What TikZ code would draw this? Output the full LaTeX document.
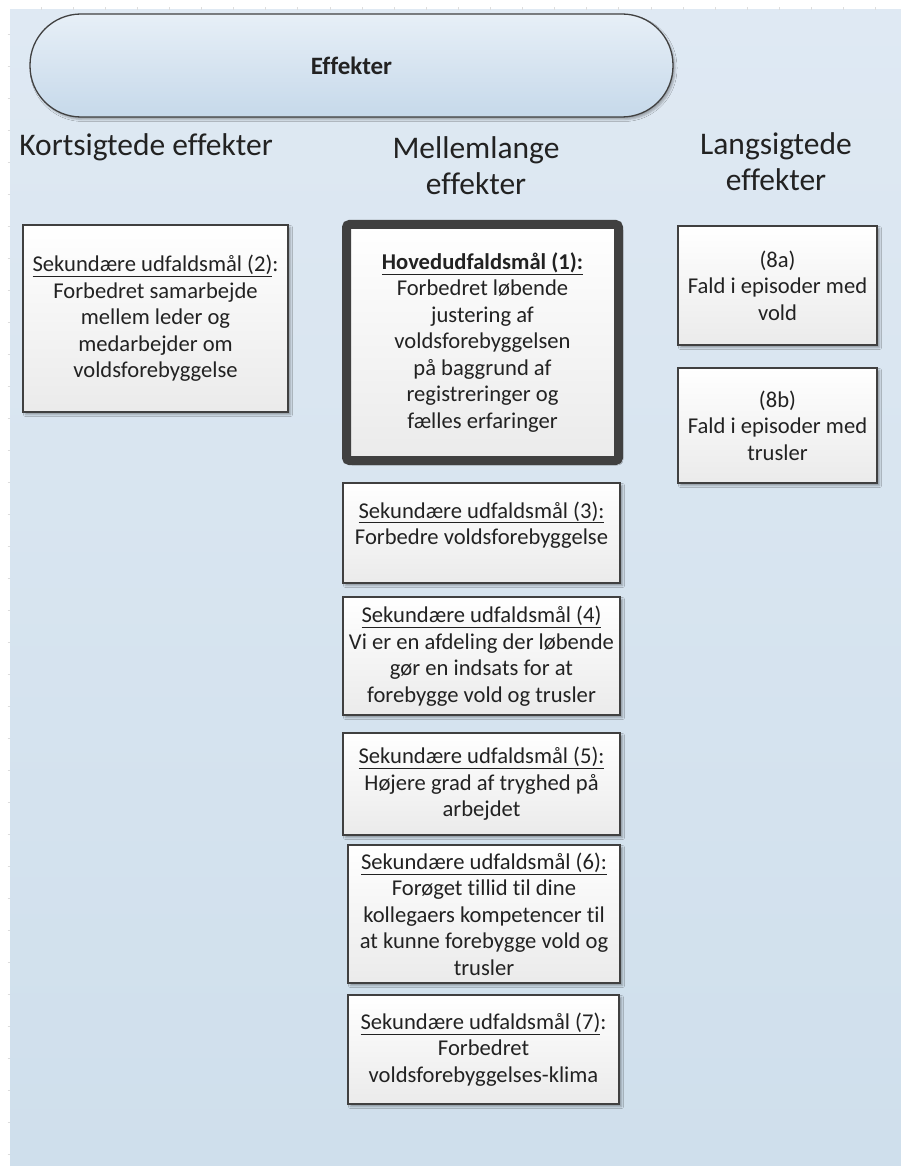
\documentclass[tikz,border=0pt]{standalone}
\usepackage{fontspec}
\setmainfont{Carlito}[Ligatures={NoCommon}]
\usetikzlibrary{shadows.blur}
\definecolor{panelTop}{HTML}{DFE9F3}
\definecolor{panelBot}{HTML}{CFDFEC}
\definecolor{termTop}{HTML}{E7EFF7}
\definecolor{termBot}{HTML}{C6D9EA}
\definecolor{edge}{HTML}{404040}
\definecolor{txt}{HTML}{222222}
\definecolor{tickc}{HTML}{DDDDDD}
\tikzset{
  boxstyle/.style={draw=edge, line width=1.2pt, top color=white, bottom color=black!8,
    align=center, text=txt, font=\fontsize{22.6}{26.5}\selectfont, inner sep=0pt,
    blur shadow={shadow xshift=2.5pt, shadow yshift=-2.5pt, shadow opacity=35, shadow blur radius=2pt}},
  mainbox/.style={boxstyle, line width=9pt, rounded corners=3pt},
  headstyle/.style={align=center, text=txt, font=\fontsize{31.5}{35.5}\selectfont, inner sep=0pt},
  termstyle/.style={draw=edge, line width=1.3pt, top color=termTop, bottom color=termBot,
    rounded corners=51pt, text=txt, font=\fontsize{25}{29}\selectfont\bfseries,
    blur shadow={shadow xshift=2pt, shadow yshift=-2.5pt, shadow opacity=30, shadow blur radius=2pt}},
  tickstyle/.style={draw=tickc, line width=0.7pt},
  plaintext/.style={align=center, text=txt, font=\fontsize{22.6}{26.5}\selectfont, inner sep=0pt}
}
\begin{document}
\begin{tikzpicture}[x=1pt,y=-1pt]
\useasboundingbox (0,0) rectangle (901,1166);
\fill[white] (0,0) rectangle (901,1166);
\fill[top color=panelTop, bottom color=panelBot] (10,10) rectangle (901,1166);
\foreach \i in {0,...,26} \draw[tickstyle] ({41+32.1*\i},7.5) -- ++(0,2.5);
\foreach \j in {0,...,35} \draw[tickstyle] (7.5,{34+32*\j}) -- ++(2.5,0);

\node[termstyle, minimum width=643pt, minimum height=103pt] (term) at (351.5,65.5) {Effekter};

\node[headstyle] (hk) at (146,147) {Kortsigtede effekter};
\node[headstyle] (hm) at (476,165.5) {Mellemlange\\effekter};
\node[headstyle] (hl) at (776,161.5) {Langsigtede\\effekter};

\node[boxstyle, minimum width=265pt, minimum height=187pt] (b2) at (155.5,318.5)
  {\underline{Sekundære udfaldsmål (2)}:\\Forbedret samarbejde\\mellem leder og\\medarbejder om\\voldsforebyggelse};

\node[mainbox, minimum width=272pt, minimum height=236pt] (b1) at (482.5,342.5)
  {\textbf{\underline{Hovedudfaldsmål (1):}}\\Forbedret løbende\\justering af\\voldsforebyggelsen\\på baggrund af\\registreringer og\\fælles erfaringer};

\node[boxstyle, minimum width=277pt, minimum height=100pt] (b3) at (481.5,533) {};
\node[plaintext] (t3) at (481.5,525) {\underline{Sekundære udfaldsmål (3):}\\Forbedre voldsforebyggelse};

\node[boxstyle, minimum width=277pt, minimum height=118pt] (b4) at (481.5,656)
  {\underline{Sekundære udfaldsmål (4)}\\Vi er en afdeling der løbende\\gør en indsats for at\\forebygge vold og trusler};

\node[boxstyle, minimum width=277pt, minimum height=102pt] (b5) at (481.5,784)
  {\underline{Sekundære udfaldsmål (5):}\\Højere grad af tryghed på\\arbejdet};

\node[boxstyle, minimum width=272pt, minimum height=138pt] (b6) at (484,914)
  {\underline{Sekundære udfaldsmål (6):}\\Forøget tillid til dine\\kollegaers kompetencer til\\at kunne forebygge vold og\\trusler};

\node[boxstyle, minimum width=271pt, minimum height=109pt] (b7) at (483.5,1049.5)
  {\underline{Sekundære udfaldsmål (7)}:\\Forbedret\\voldsforebyggelses-klima};

\node[boxstyle, minimum width=199pt, minimum height=119pt] (b8a) at (777.5,285.5)
  {(8a)\\Fald i episoder med\\vold};

\node[boxstyle, minimum width=199pt, minimum height=115pt] (b8b) at (777.5,425.5)
  {(8b)\\Fald i episoder med\\trusler};
\end{tikzpicture}
\end{document}
